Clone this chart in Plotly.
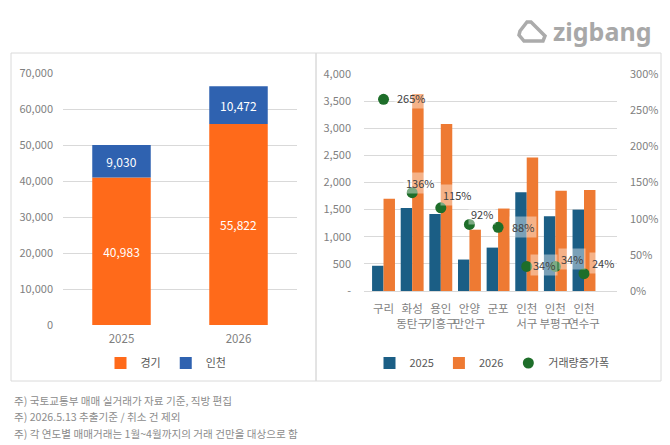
import plotly.graph_objects as go

W, H = 670, 445
FONT = "Noto Sans CJK KR"

# ---------------- data ----------------
years = ["2025", "2026"]
gyeonggi = [40983, 55822]
incheon = [9030, 10472]

regions = ["구리", "화성<br>동탄구", "용인<br>기흥구", "안양<br>만안구", "군포",
           "인천<br>서구", "인천<br>부평구", "인천<br>연수구"]
vol_2025 = [465, 1530, 1420, 580, 800, 1820, 1380, 1500]
vol_2026 = [1700, 3630, 3080, 1130, 1520, 2460, 1850, 1860]
growth_pct = [265, 136, 115, 92, 88, 34, 34, 24]

left_ticks = [0, 10000, 20000, 30000, 40000, 50000, 60000, 70000]
right_ticks = [0, 500, 1000, 1500, 2000, 2500, 3000, 3500, 4000]
right_ticktext = ["-", "500", "1,000", "1,500", "2,000", "2,500", "3,000", "3,500", "4,000"]
pct_ticks = [0, 50, 100, 150, 200, 250, 300]
pct_ticktext = ["0%", "50%", "100%", "150%", "200%", "250%", "300%"]

notes = ["주) 국토교통부 매매 실거래가 자료 기준, 직방 편집",
         "주) 2026.5.13 추출기준 / 취소 건 제외",
         "주) 각 연도별 매매거래는 1월~4월까지의 거래 건만을 대상으로 함"]

# label offsets (px) for growth labels: (dx, dy)
label_offsets = [(27, 1), (8, 10), (16, 13), (13, 10), (25, 0), (17, 1), (17, 7), (19, 11)]

# ---------------- colors ----------------
C_GG = "#FF6A1A"
C_IC = "#2F62B0"
C_25 = "#1B5E85"
C_26 = "#EE7A33"
C_GR = "#1E6E2A"
GRID = "#D9D9D9"
TICK = "#7F7F7F"


def px(x):
    return x / W


def py(y):
    return 1 - y / H


fig = go.Figure()

# left chart (stacked via base)
fig.add_trace(go.Bar(x=years, y=gyeonggi, name="경기", marker_color=C_GG, width=0.5,
                     xaxis="x", yaxis="y", legend="legend",
                     text=[f"{v:,}" for v in gyeonggi], textposition="inside",
                     insidetextanchor="middle",
                     textfont=dict(color="white", size=12, family=FONT)))
fig.add_trace(go.Bar(x=years, y=incheon, base=gyeonggi, name="인천", marker_color=C_IC, width=0.5,
                     xaxis="x", yaxis="y", legend="legend",
                     text=[f"{v:,}" for v in incheon], textposition="inside",
                     insidetextanchor="middle",
                     textfont=dict(color="white", size=12, family=FONT)))

# right chart
fig.add_trace(go.Bar(x=regions, y=vol_2025, name="2025", marker_color=C_25,
                     offset=-0.4, width=0.4, xaxis="x2", yaxis="y2", legend="legend2"))
fig.add_trace(go.Bar(x=regions, y=vol_2026, name="2026", marker_color=C_26,
                     offset=0.0, width=0.4, xaxis="x2", yaxis="y2", legend="legend2"))
fig.add_trace(go.Scatter(x=regions, y=growth_pct, name="거래량증가폭", mode="markers",
                         marker=dict(color=C_GR, size=11), xaxis="x2", yaxis="y3",
                         legend="legend2"))

annotations = []
for r, g, (dx, dy) in zip(regions, growth_pct, label_offsets):
    annotations.append(dict(x=r, y=g, xref="x2", yref="y3", text=f"{g}%", showarrow=False,
                            xanchor="center", yanchor="middle", xshift=dx, yshift=dy,
                            bgcolor="rgba(255,255,255,0.42)", borderpad=2,
                            font=dict(size=11, color="#404040", family=FONT)))

for i, t in enumerate(notes):
    annotations.append(dict(x=px(12), y=py(400 + i * 16.5), xref="paper", yref="paper",
                            text=t, showarrow=False, xanchor="left", yanchor="middle",
                            font=dict(size=10.6, color="#8C8C8C", family=FONT)))

annotations.append(dict(x=px(551), y=py(31), xref="paper", yref="paper", text="<b>zigbang</b>",
                        showarrow=False, xanchor="left", yanchor="middle",
                        font=dict(size=25, color="#A8A8A8", family="Noto Sans")))

shapes = [
    dict(type="rect", xref="paper", yref="paper", x0=px(11), x1=px(316), y0=py(381), y1=py(53),
         line=dict(color="#DADADA", width=1), fillcolor="rgba(0,0,0,0)", layer="below"),
    dict(type="rect", xref="paper", yref="paper", x0=px(316), x1=px(661), y0=py(381), y1=py(53),
         line=dict(color="#DADADA", width=1), fillcolor="rgba(0,0,0,0)", layer="below"),
]
icon_pts = [(520, 31), (527, 22), (531, 22), (545, 36), (543, 41), (524, 41), (519, 35)]
path = "M " + " L ".join(f"{px(x):.5f},{py(y):.5f}" for x, y in icon_pts) + " Z"
shapes.append(dict(type="path", xref="paper", yref="paper", path=path,
                   line=dict(color="#ABABAB", width=3.5), fillcolor="rgba(0,0,0,0)"))

tickfont = dict(size=11, color=TICK, family=FONT)

fig.update_layout(
    template="none",
    width=W, height=H, margin=dict(l=0, r=0, t=0, b=0, autoexpand=False),
    paper_bgcolor="white", plot_bgcolor="white",
    barmode="overlay",
    font=dict(family=FONT, color=TICK),
    xaxis=dict(domain=[px(63), px(297)], anchor="y", type="category", automargin=False,
               showgrid=False, showline=False, ticks="", tickangle=0,
               tickfont=dict(size=11.5, color=TICK, family=FONT), ticklabelstandoff=5),
    yaxis=dict(domain=[py(325), py(73)], anchor="x", range=[0, 70000], tickvals=left_ticks,
               tickformat=",", showgrid=True, gridcolor=GRID, gridwidth=1, zeroline=False,
               showline=False, ticks="", automargin=False,
               tickfont=tickfont, ticklabelstandoff=9),
    xaxis2=dict(domain=[px(364), px(617)], anchor="y2", type="category", automargin=False,
                showgrid=False, showline=True, linecolor=GRID, ticks="", tickangle=0,
                tickfont=dict(size=11.5, color=TICK, family=FONT), ticklabelstandoff=7),
    yaxis2=dict(domain=[py(291), py(74)], anchor="x2", range=[0, 4000], tickvals=right_ticks,
                ticktext=right_ticktext, showgrid=True, gridcolor=GRID, gridwidth=1,
                zeroline=False, showline=False, ticks="", automargin=False,
                tickfont=tickfont, ticklabelstandoff=12),
    yaxis3=dict(overlaying="y2", anchor="x2", side="right", range=[0, 300], tickvals=pct_ticks,
                ticktext=pct_ticktext, showgrid=False, zeroline=False, showline=False,
                ticks="", automargin=False, tickfont=tickfont, ticklabelstandoff=12),
    legend=dict(orientation="h", x=px(166), y=py(363), xanchor="center", yanchor="middle",
                font=dict(size=11, color="#595959", family=FONT), itemwidth=30,
                bgcolor="rgba(0,0,0,0)", traceorder="normal"),
    legend2=dict(orientation="h", x=px(492), y=py(363), xanchor="center", yanchor="middle",
                 font=dict(size=11, color="#595959", family=FONT), itemwidth=30,
                 bgcolor="rgba(0,0,0,0)", traceorder="normal"),
    annotations=annotations,
    shapes=shapes,
    showlegend=True,
)

fig.write_html("out.html")
